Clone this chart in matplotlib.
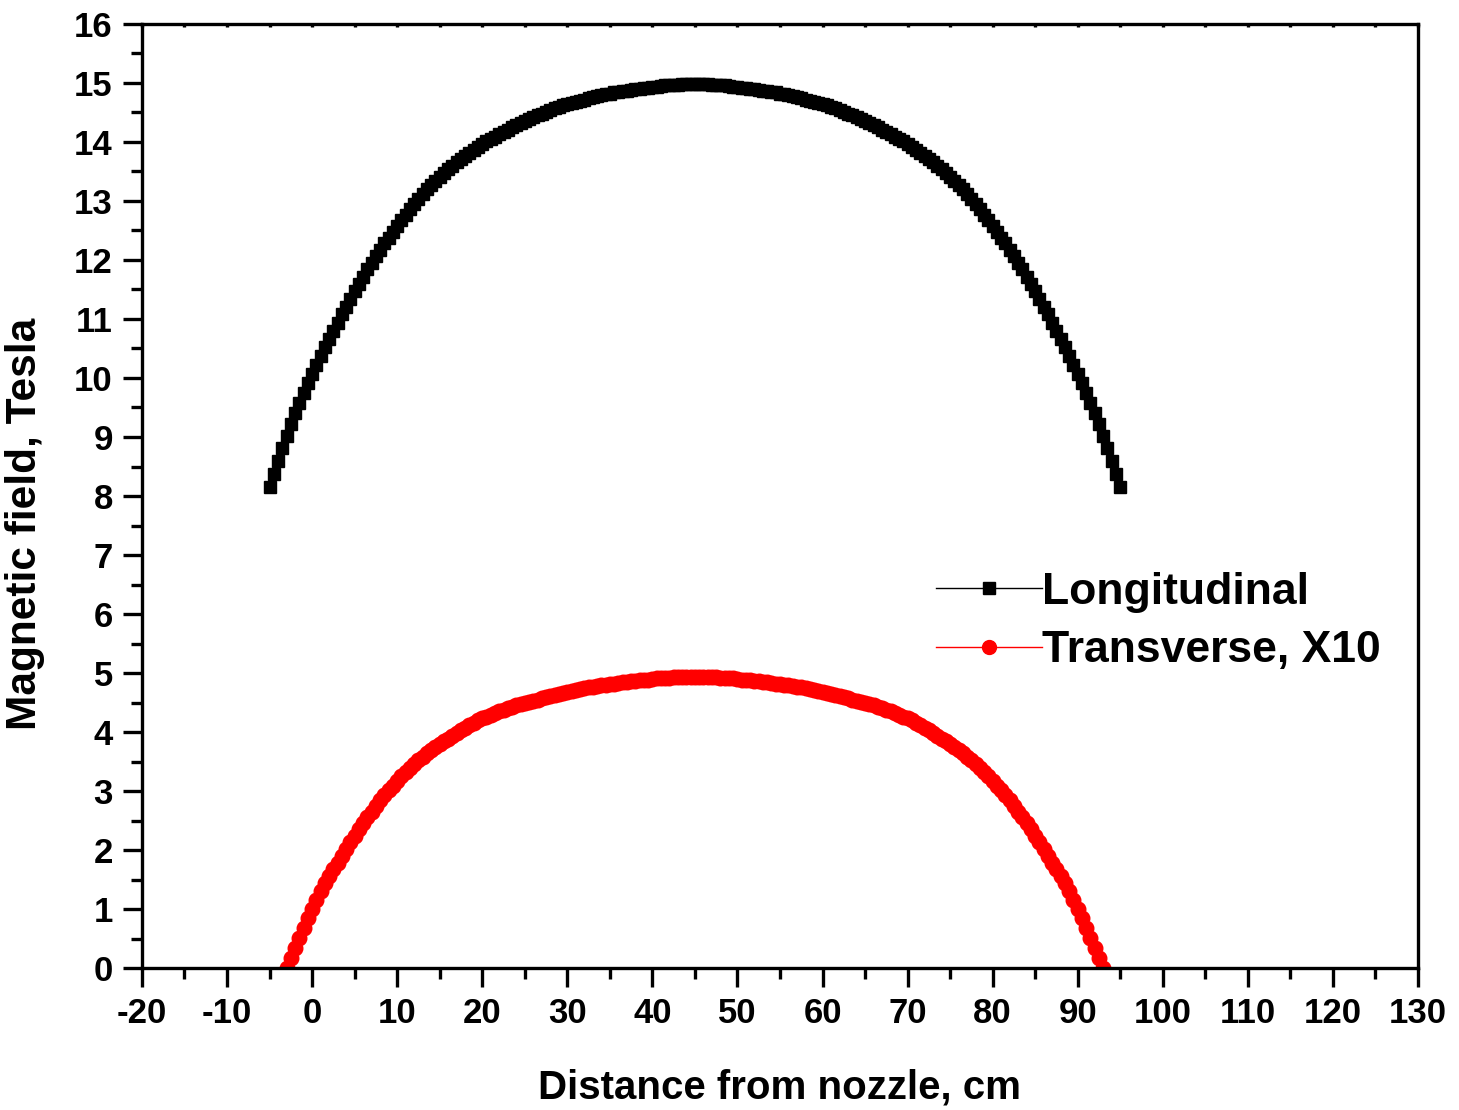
import matplotlib
matplotlib.use("Agg")
import matplotlib.pyplot as plt
from matplotlib.ticker import MultipleLocator

plt.rcParams['font.family'] = ['Liberation Sans', 'DejaVu Sans']
plt.rcParams['font.weight'] = 'bold'
plt.rcParams['axes.unicode_minus'] = False

# Longitudinal field (Tesla) vs distance from nozzle (cm), read every 0.5 cm
long_x = [-5, -4.5, -4, -3.5, -3, -2.5, -2, -1.5, -1, -0.5,
          0, 0.5, 1, 1.5, 2, 2.5, 3, 3.5, 4, 4.5,
          5, 5.5, 6, 6.5, 7, 7.5, 8, 8.5, 9, 9.5,
          10, 10.5, 11, 11.5, 12, 12.5, 13, 13.5, 14, 14.5,
          15, 15.5, 16, 16.5, 17, 17.5, 18, 18.5, 19, 19.5,
          20, 20.5, 21, 21.5, 22, 22.5, 23, 23.5, 24, 24.5,
          25, 25.5, 26, 26.5, 27, 27.5, 28, 28.5, 29, 29.5,
          30, 30.5, 31, 31.5, 32, 32.5, 33, 33.5, 34, 34.5,
          35, 35.5, 36, 36.5, 37, 37.5, 38, 38.5, 39, 39.5,
          40, 40.5, 41, 41.5, 42, 42.5, 43, 43.5, 44, 44.5,
          45, 45.5, 46, 46.5, 47, 47.5, 48, 48.5, 49, 49.5,
          50, 50.5, 51, 51.5, 52, 52.5, 53, 53.5, 54, 54.5,
          55, 55.5, 56, 56.5, 57, 57.5, 58, 58.5, 59, 59.5,
          60, 60.5, 61, 61.5, 62, 62.5, 63, 63.5, 64, 64.5,
          65, 65.5, 66, 66.5, 67, 67.5, 68, 68.5, 69, 69.5,
          70, 70.5, 71, 71.5, 72, 72.5, 73, 73.5, 74, 74.5,
          75, 75.5, 76, 76.5, 77, 77.5, 78, 78.5, 79, 79.5,
          80, 80.5, 81, 81.5, 82, 82.5, 83, 83.5, 84, 84.5,
          85, 85.5, 86, 86.5, 87, 87.5, 88, 88.5, 89, 89.5,
          90, 90.5, 91, 91.5, 92, 92.5, 93, 93.5, 94, 94.5,
          95]
long_y = [8.15, 8.38, 8.60, 8.82, 9.02, 9.22, 9.40, 9.58, 9.75, 9.91,
          10.07, 10.22, 10.37, 10.52, 10.66, 10.80, 10.94, 11.08, 11.21, 11.34,
          11.47, 11.60, 11.72, 11.84, 11.95, 12.06, 12.17, 12.28, 12.38, 12.48,
          12.58, 12.68, 12.77, 12.86, 12.95, 13.04, 13.12, 13.20, 13.27, 13.34,
          13.41, 13.48, 13.54, 13.60, 13.66, 13.72, 13.77, 13.82, 13.87, 13.92,
          13.96, 14.01, 14.05, 14.09, 14.13, 14.17, 14.21, 14.25, 14.28, 14.32,
          14.35, 14.39, 14.42, 14.45, 14.48, 14.51, 14.54, 14.57, 14.59, 14.62,
          14.64, 14.66, 14.68, 14.70, 14.72, 14.74, 14.76, 14.78, 14.79, 14.81,
          14.82, 14.84, 14.85, 14.86, 14.87, 14.88, 14.89, 14.90, 14.91, 14.92,
          14.93, 14.94, 14.95, 14.96, 14.96, 14.97, 14.97, 14.98, 14.98, 14.98,
          14.98, 14.98, 14.98, 14.98, 14.97, 14.97, 14.96, 14.96, 14.95, 14.94,
          14.93, 14.92, 14.91, 14.90, 14.89, 14.88, 14.87, 14.86, 14.85, 14.84,
          14.82, 14.81, 14.79, 14.78, 14.76, 14.74, 14.72, 14.70, 14.68, 14.66,
          14.64, 14.62, 14.59, 14.57, 14.54, 14.51, 14.48, 14.45, 14.42, 14.39,
          14.35, 14.32, 14.28, 14.25, 14.21, 14.17, 14.13, 14.09, 14.05, 14.01,
          13.96, 13.92, 13.87, 13.82, 13.77, 13.72, 13.66, 13.60, 13.54, 13.48,
          13.41, 13.34, 13.27, 13.20, 13.12, 13.04, 12.95, 12.86, 12.77, 12.68,
          12.58, 12.48, 12.38, 12.28, 12.17, 12.06, 11.95, 11.84, 11.72, 11.60,
          11.47, 11.34, 11.21, 11.08, 10.94, 10.80, 10.66, 10.52, 10.37, 10.22,
          10.07, 9.91, 9.75, 9.58, 9.40, 9.22, 9.02, 8.82, 8.60, 8.38,
          8.15]

# Transverse field x10 (Tesla) vs distance from nozzle (cm), read every 0.5 cm
trans_x = [-3, -2.5, -2, -1.5, -1, -0.5,
           0, 0.5, 1, 1.5, 2, 2.5, 3, 3.5, 4, 4.5,
           5, 5.5, 6, 6.5, 7, 7.5, 8, 8.5, 9, 9.5,
           10, 10.5, 11, 11.5, 12, 12.5, 13, 13.5, 14, 14.5,
           15, 15.5, 16, 16.5, 17, 17.5, 18, 18.5, 19, 19.5,
           20, 20.5, 21, 21.5, 22, 22.5, 23, 23.5, 24, 24.5,
           25, 25.5, 26, 26.5, 27, 27.5, 28, 28.5, 29, 29.5,
           30, 30.5, 31, 31.5, 32, 32.5, 33, 33.5, 34, 34.5,
           35, 35.5, 36, 36.5, 37, 37.5, 38, 38.5, 39, 39.5,
           40, 40.5, 41, 41.5, 42, 42.5, 43, 43.5, 44, 44.5,
           45, 45.5, 46, 46.5, 47, 47.5, 48, 48.5, 49, 49.5,
           50, 50.5, 51, 51.5, 52, 52.5, 53, 53.5, 54, 54.5,
           55, 55.5, 56, 56.5, 57, 57.5, 58, 58.5, 59, 59.5,
           60, 60.5, 61, 61.5, 62, 62.5, 63, 63.5, 64, 64.5,
           65, 65.5, 66, 66.5, 67, 67.5, 68, 68.5, 69, 69.5,
           70, 70.5, 71, 71.5, 72, 72.5, 73, 73.5, 74, 74.5,
           75, 75.5, 76, 76.5, 77, 77.5, 78, 78.5, 79, 79.5,
           80, 80.5, 81, 81.5, 82, 82.5, 83, 83.5, 84, 84.5,
           85, 85.5, 86, 86.5, 87, 87.5, 88, 88.5, 89, 89.5,
           90, 90.5, 91, 91.5, 92, 92.5, 93]
trans_y = [0.00, 0.17, 0.34, 0.51, 0.68, 0.84,
           1.00, 1.15, 1.30, 1.44, 1.56, 1.67, 1.78, 1.90, 2.01, 2.13,
           2.24, 2.35, 2.46, 2.56, 2.65, 2.75, 2.84, 2.93, 3.01, 3.09,
           3.17, 3.25, 3.32, 3.39, 3.45, 3.52, 3.58, 3.64, 3.69, 3.74,
           3.79, 3.84, 3.88, 3.93, 3.98, 4.03, 4.07, 4.12, 4.16, 4.20,
           4.23, 4.26, 4.29, 4.32, 4.35, 4.38, 4.40, 4.43, 4.45, 4.47,
           4.49, 4.51, 4.53, 4.55, 4.57, 4.59, 4.61, 4.63, 4.64, 4.66,
           4.68, 4.70, 4.71, 4.73, 4.74, 4.76, 4.77, 4.78, 4.79, 4.80,
           4.81, 4.82, 4.83, 4.84, 4.85, 4.86, 4.87, 4.88, 4.88, 4.89,
           4.90, 4.91, 4.91, 4.92, 4.92, 4.93, 4.93, 4.93, 4.93, 4.94,
           4.94, 4.94, 4.93, 4.93, 4.93, 4.93, 4.92, 4.92, 4.91, 4.91,
           4.90, 4.89, 4.88, 4.88, 4.87, 4.86, 4.85, 4.84, 4.83, 4.82,
           4.81, 4.80, 4.79, 4.78, 4.77, 4.76, 4.74, 4.73, 4.71, 4.70,
           4.68, 4.66, 4.64, 4.63, 4.61, 4.59, 4.57, 4.55, 4.53, 4.51,
           4.49, 4.47, 4.45, 4.43, 4.40, 4.38, 4.35, 4.32, 4.29, 4.26,
           4.23, 4.20, 4.16, 4.12, 4.07, 4.03, 3.98, 3.93, 3.88, 3.84,
           3.79, 3.74, 3.69, 3.64, 3.58, 3.52, 3.45, 3.39, 3.32, 3.25,
           3.17, 3.09, 3.01, 2.93, 2.84, 2.75, 2.65, 2.56, 2.46, 2.35,
           2.24, 2.13, 2.01, 1.90, 1.78, 1.67, 1.56, 1.44, 1.30, 1.15,
           1.00, 0.84, 0.68, 0.51, 0.34, 0.17, 0.00]

fig = plt.figure(figsize=(14.59, 11.10), dpi=100)
ax = fig.add_axes([0.0973, 0.1279, 0.8746, 0.8505])

ax.plot(long_x, long_y, color='black', lw=1, marker='s', ms=8.5,
        mec='black', mfc='black', label='Longitudinal')
ax.plot(trans_x, trans_y, color='red', lw=1, marker='o', ms=10.5,
        mec='red', mfc='red', label='Transverse, X10')

ax.set_xlim(-20, 130)
ax.set_ylim(0, 16)
ax.xaxis.set_major_locator(MultipleLocator(10))
ax.xaxis.set_minor_locator(MultipleLocator(5))
ax.yaxis.set_major_locator(MultipleLocator(1))
ax.yaxis.set_minor_locator(MultipleLocator(0.5))

for s in ax.spines.values():
    s.set_linewidth(2.4)

ax.tick_params(which='major', direction='out', length=14, width=2.4,
               labelsize=25, pad=7)
ax.tick_params(which='minor', direction='out', length=8, width=2.4)
ax.tick_params(axis='x', which='both', top=True, labeltop=False)
# tiny inward ticks on the top spine
for t in ax.xaxis.get_major_ticks() + ax.xaxis.get_minor_ticks():
    t.tick2line.set_marker(3)
    t.tick2line.set_markersize(2)

ax.set_xlabel('Distance from nozzle, cm', fontsize=29, fontweight='bold')
ax.set_ylabel('Magnetic field, Tesla', fontsize=30.5, fontweight='bold')
ax.xaxis.set_label_coords(0.5, -0.106)
ax.yaxis.set_label_coords(-0.076, 0.47)

leg = ax.legend(loc='upper left', bbox_to_anchor=(0.622, 0.420), frameon=False,
                fontsize=32, numpoints=1, handlelength=2.4, handletextpad=0.0,
                borderpad=0, borderaxespad=0, labelspacing=0.4)
leg.legend_handles[0].set_markersize(8)
leg.legend_handles[1].set_markersize(10)

fig.savefig('out.png', dpi=100)
